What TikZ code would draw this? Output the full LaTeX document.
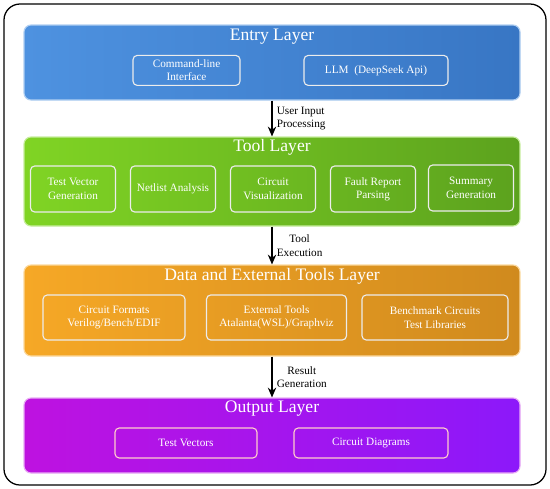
\documentclass[tikz,border=0pt]{standalone}
\usepackage{fontspec}
\setmainfont{Liberation Serif}
\usepackage{tikz}
\usetikzlibrary{arrows.meta, positioning}

\definecolor{entryL}{RGB}{78,146,224}
\definecolor{entryR}{RGB}{56,118,196}
\definecolor{toolL}{RGB}{128,212,36}
\definecolor{toolR}{RGB}{92,162,30}
\definecolor{dataL}{RGB}{246,168,38}
\definecolor{dataR}{RGB}{208,138,30}
\definecolor{outL}{RGB}{190,18,224}
\definecolor{outR}{RGB}{140,24,250}

\begin{document}
\begin{tikzpicture}[
  layer/.style={rectangle, rounded corners=5pt, minimum width=12.4cm, shading=axis, shading angle=90, line width=0.8pt},
  ttl/.style={font=\fontsize{12.5}{14}\selectfont, text=white},
  sub/.style={rectangle, draw=white!85!gray, line width=0.8pt, rounded corners=3pt, minimum height=1.15cm, font=\fontsize{8}{9.5}\selectfont, text=white, align=center, inner sep=2pt},
  flow/.style={-{Stealth[length=7pt, width=6pt]}, line width=0.8pt, black},
  lbl/.style={font=\fontsize{8}{9.5}\selectfont, inner sep=3pt},
]
\useasboundingbox (0,0) rectangle (13.75,-12.2);
\draw[line width=0.9pt, rounded corners=0.4cm] (0.1,-0.1) rectangle (13.65,-12.125);

% entry layer
\node[layer, minimum height=1.875cm, left color=entryL, right color=entryR, draw=entryL!45!white] (entry) at (6.8,-1.5625) {};
\node[ttl] (entryt) at (6.8,-0.925) {Entry Layer};
\node[sub, minimum width=2.675cm, minimum height=0.75cm] (cli) at (4.6625,-1.76) {Command-line\\Interface};
\node[sub, minimum width=3.6cm, minimum height=0.75cm] (llm) at (9.4,-1.76) {LLM~~(DeepSeek Api)};

% tool layer
\node[layer, minimum height=2.225cm, left color=toolL, right color=toolR, draw=toolL!45!white] (tool) at (6.8,-4.5375) {};
\node[ttl] (toolt) at (6.8,-3.6875) {Tool Layer};
\node[sub, minimum width=2.125cm] (tvg) at (1.825,-4.725) {Test Vector\\Generation};
\node[sub, minimum width=2.125cm] (net) at (4.325,-4.725) {Netlist Analysis};
\node[sub, minimum width=2.125cm] (viz) at (6.825,-4.725) {Circuit\\Visualization};
\node[sub, minimum width=2.125cm] (frp) at (9.325,-4.725) {Fault Report\\Parsing};
\node[sub, minimum width=2.125cm] (sum) at (11.775,-4.7) {Summary\\Generation};

% data and external tools layer
\node[layer, minimum height=2.275cm, left color=dataL, right color=dataR, draw=dataL!45!white] (data) at (6.8,-7.7625) {};
\node[ttl] (datat) at (6.8,-6.9) {Data and External Tools Layer};
\node[sub, minimum width=3.55cm, minimum height=1.125cm] (fmt) at (2.85,-7.9375) {Circuit Formats\\Verilog/Bench/EDIF};
\node[sub, minimum width=3.5cm, minimum height=1.125cm] (ext) at (6.9125,-7.9375) {External Tools\\Atalanta(WSL)/Graphviz};
\node[sub, minimum width=3.65cm, minimum height=1.125cm] (bench) at (10.875,-7.9375) {Benchmark Circuits\\Test Libraries};

% output layer
\node[layer, minimum height=1.875cm, left color=outL, right color=outR, draw=outL!35!white] (out) at (6.8,-10.8875) {};
\node[ttl] (outt) at (6.8,-10.225) {Output Layer};
\node[sub, draw=pink!80!white, minimum width=3.55cm, minimum height=0.75cm] (tv) at (4.65,-11.075) {Test Vectors};
\node[sub, draw=pink!80!white, minimum width=3.85cm, minimum height=0.75cm] (cd) at (9.275,-11.075) {Circuit Diagrams};

% flow between layers
\draw[flow] (entry.south) -- node[lbl, midway, right, align=left] {User Input\\Processing} (tool.north);
\draw[flow] (tool.south) -- node[lbl, midway, right, align=center] {Tool\\Execution} (data.north);
\draw[flow] (data.south) -- node[lbl, midway, right, align=center] {Result\\Generation} (out.north);
\end{tikzpicture}
\end{document}
